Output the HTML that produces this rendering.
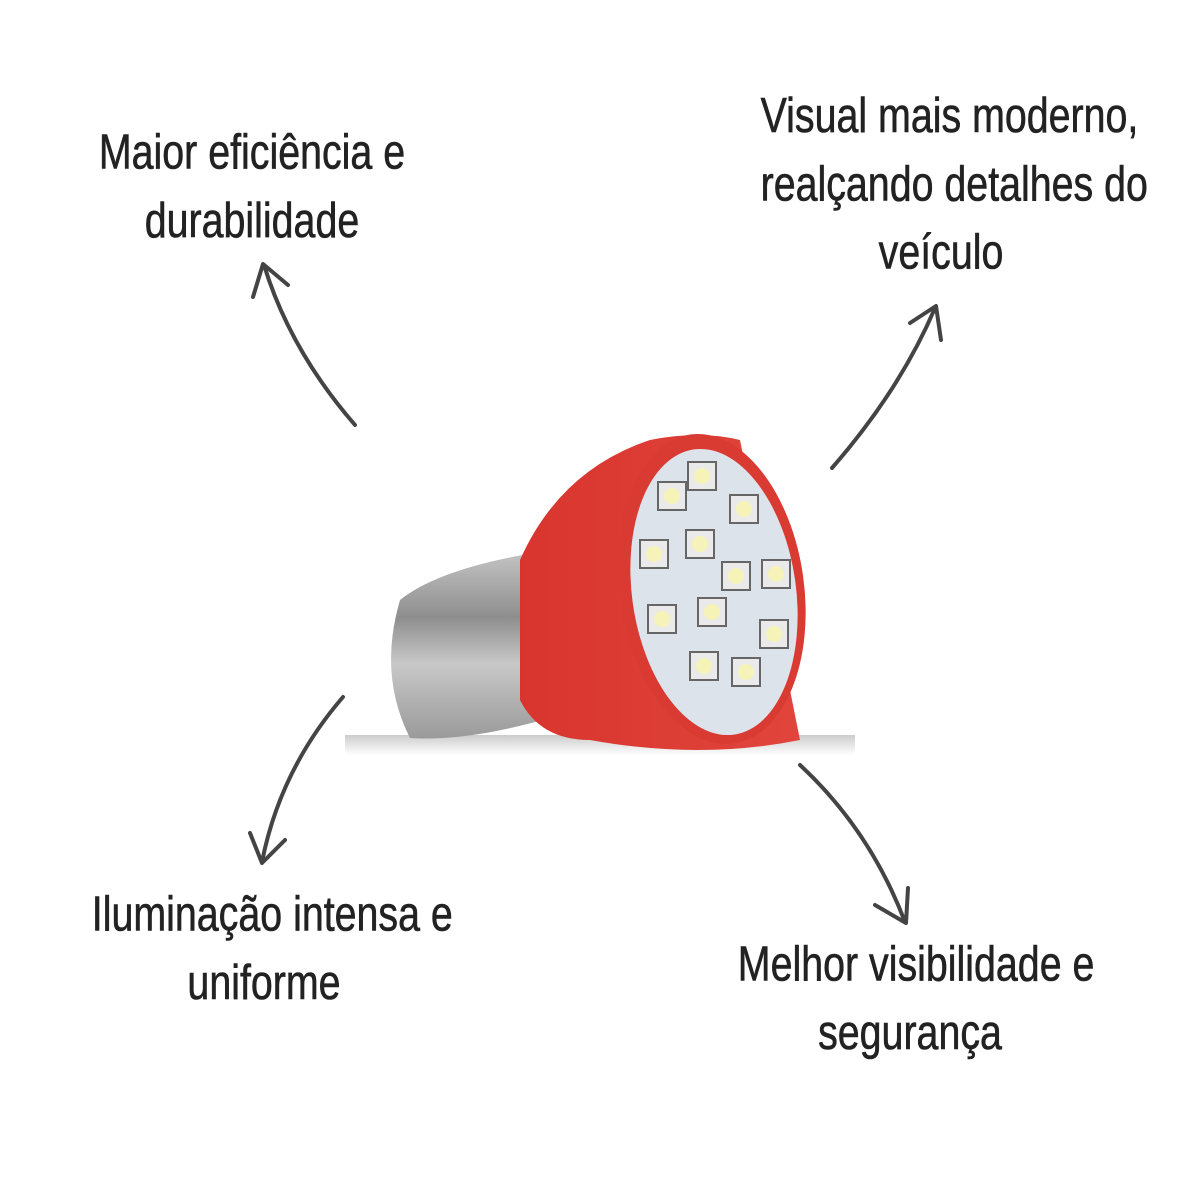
<!DOCTYPE html>
<html><head><meta charset="utf-8"><style>
html,body{margin:0;padding:0;background:#fff}
body{width:1200px;height:1200px;position:relative;overflow:hidden}
.t{position:absolute;font-family:"Liberation Sans Narrow","Liberation Sans",sans-serif;font-size:48px;color:#222;text-align:center;line-height:67px;transform:scale(0.82,1.02);transform-origin:center;white-space:nowrap;-webkit-text-stroke:0.6px #222}
svg{position:absolute;left:0;top:0}
</style></head><body>
<svg width="1200" height="1200" viewBox="0 0 1200 1200">
<defs>
<linearGradient id="metal" x1="0" y1="0" x2="0" y2="1">
<stop offset="0" stop-color="#c4c4c4"/><stop offset="0.35" stop-color="#8e8e8e"/><stop offset="0.6" stop-color="#c8c8c8"/><stop offset="1" stop-color="#9a9a9a"/></linearGradient>
<linearGradient id="red" x1="0" y1="0" x2="1" y2="0">
<stop offset="0" stop-color="#d8352e"/><stop offset="1" stop-color="#e0453c"/></linearGradient>
<linearGradient id="sh" x1="0" y1="0" x2="0" y2="1"><stop offset="0" stop-color="#ccc"/><stop offset="1" stop-color="#fff"/></linearGradient>
</defs>
<rect x="345" y="735" width="510" height="20" fill="url(#sh)"/>
<path d="M400 600 Q440 568 540 552 L560 715 Q470 742 410 738 Q378 675 400 600Z" fill="url(#metal)"/>
<path d="M520 560 Q560 470 650 440 Q700 430 740 440 L800 740 Q700 760 590 740 Q540 740 520 700Z" fill="url(#red)"/>
<ellipse cx="712" cy="589" rx="92" ry="156" transform="rotate(-8 712 589)" fill="#d93a32"/>
<ellipse cx="714" cy="592" rx="82" ry="144" transform="rotate(-8 714 592)" fill="#dde3ea"/>
<g fill="#eaeaea" stroke="#666" stroke-width="2">
<rect x="658" y="482" width="28" height="28"/><rect x="688" y="462" width="28" height="28"/><rect x="730" y="495" width="28" height="28"/>
<rect x="640" y="540" width="28" height="28"/><rect x="686" y="530" width="28" height="28"/><rect x="722" y="562" width="28" height="28"/>
<rect x="762" y="560" width="28" height="28"/><rect x="648" y="605" width="28" height="28"/><rect x="698" y="598" width="28" height="28"/>
<rect x="760" y="620" width="28" height="28"/><rect x="690" y="652" width="28" height="28"/><rect x="732" y="658" width="28" height="28"/>
</g>
<g fill="#f6f3b8"><circle cx="672" cy="496" r="8"/><circle cx="702" cy="476" r="8"/><circle cx="744" cy="509" r="8"/><circle cx="654" cy="554" r="8"/><circle cx="700" cy="544" r="8"/><circle cx="736" cy="576" r="8"/><circle cx="776" cy="574" r="8"/><circle cx="662" cy="619" r="8"/><circle cx="712" cy="612" r="8"/><circle cx="774" cy="634" r="8"/><circle cx="704" cy="666" r="8"/><circle cx="746" cy="672" r="8"/></g>
<g fill="none" stroke="#444" stroke-width="4" stroke-linecap="round" stroke-linejoin="round">
<path d="M355 425 Q290 350 264 265"/><path d="M253 297 L263 264 L288 285"/>
<path d="M832 468 Q900 390 935 308"/><path d="M910 323 L936 306 L941 340"/>
<path d="M343 697 Q280 770 262 862"/><path d="M250 833 L262 863 L285 840"/>
<path d="M800 765 Q870 830 905 922"/><path d="M875 905 L906 923 L908 888"/>
</g>
</svg>
<div class="t" style="left:52px;width:400px;top:120px">Maior eficiência e<br>durabilidade</div>
<div class="t" style="left:728px;width:440px;top:84px;margin-left:-7px">Visual mais moderno,<br>realçando detalhes do<br>veículo</div>
<div class="t" style="left:54px;width:420px;top:882px">Iluminação intensa e<br>uniforme</div>
<div class="t" style="left:700px;width:420px;top:932px">Melhor visibilidade e<br>segurança</div>
</body></html>
